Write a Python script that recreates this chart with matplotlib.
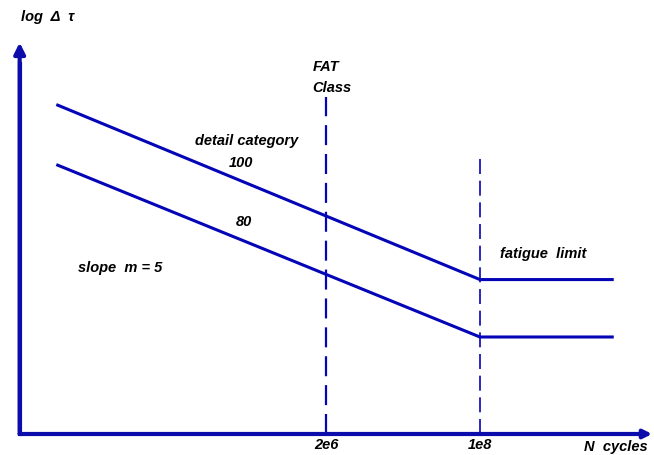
import matplotlib
matplotlib.use("Agg")
import matplotlib.pyplot as plt

# S-N curve sketch: x = log10(N), y = log(delta tau) in arbitrary units
cat100_logN = [3.34, 8.0, 9.46]
cat100_y = [7.56, 3.55, 3.55]
cat80_logN = [3.34, 8.0, 9.46]
cat80_y = [6.18, 2.23, 2.23]

fat_class_logN = 6.301      # 2e6
fatigue_limit_logN = 8.0    # 1e8
tick_labels = ["2e6", "1e8"]

blue = "#0505b8"
axis_blue = "#0c0cac"
font = dict(family="Liberation Sans", weight="bold", style="italic", fontsize=10.5)

fig = plt.figure(figsize=(6.54, 4.56), dpi=100)
ax = fig.add_axes([0, 0, 1, 1])
ax.set_xlim(2.703, 9.921)
ax.set_ylim(-0.483, 10.0)
ax.axis("off")

x0, y0 = 2.92, 0.0   # origin of the sketch axes

# axes with arrow heads
ax.annotate("", xy=(x0, 9.0), xytext=(x0, y0),
            arrowprops=dict(arrowstyle="-|>", color=axis_blue, lw=3,
                            mutation_scale=16, shrinkA=0, shrinkB=0))
ax.annotate("", xy=(9.90, y0), xytext=(x0, y0),
            arrowprops=dict(arrowstyle="-|>", color=axis_blue, lw=3,
                            mutation_scale=12, shrinkA=0, shrinkB=0))
ax.plot([x0, x0], [y0, 8.5], color=axis_blue, lw=3, solid_capstyle="projecting")

# dashed reference lines
ax.plot([fat_class_logN, fat_class_logN], [0, 7.75], color=blue, lw=1.6,
        dashes=(9, 4))
ax.plot([fatigue_limit_logN, fatigue_limit_logN], [0, 6.4], color=blue, lw=1.2,
        dashes=(9, 4))

# S-N curves
ax.plot(cat100_logN, cat100_y, color=blue, lw=2.2)
ax.plot(cat80_logN, cat80_y, color=blue, lw=2.2)

# labels
ax.text(2.93, 9.6, "log  Δ  τ", ha="left", va="center", **font)
ax.text(6.15, 8.45, "FAT", ha="left", va="center", **font)
ax.text(6.15, 7.98, "Class", ha="left", va="center", **font)
ax.text(5.42, 6.75, "detail category", ha="center", va="center", **font)
ax.text(5.36, 6.25, "100", ha="center", va="center", **font)
ax.text(5.4, 4.9, "80", ha="center", va="center", **font)
ax.text(3.56, 3.85, "slope  m = 5", ha="left", va="center", **font)
ax.text(8.22, 4.15, "fatigue  limit", ha="left", va="center", **font)

ax.text(fat_class_logN, -0.22, tick_labels[0], ha="center", va="center", **font)
ax.text(fatigue_limit_logN, -0.22, tick_labels[1], ha="center", va="center", **font)
ax.text(9.15, -0.27, "N  cycles", ha="left", va="center", **font)

fig.savefig("out.png", dpi=100)
